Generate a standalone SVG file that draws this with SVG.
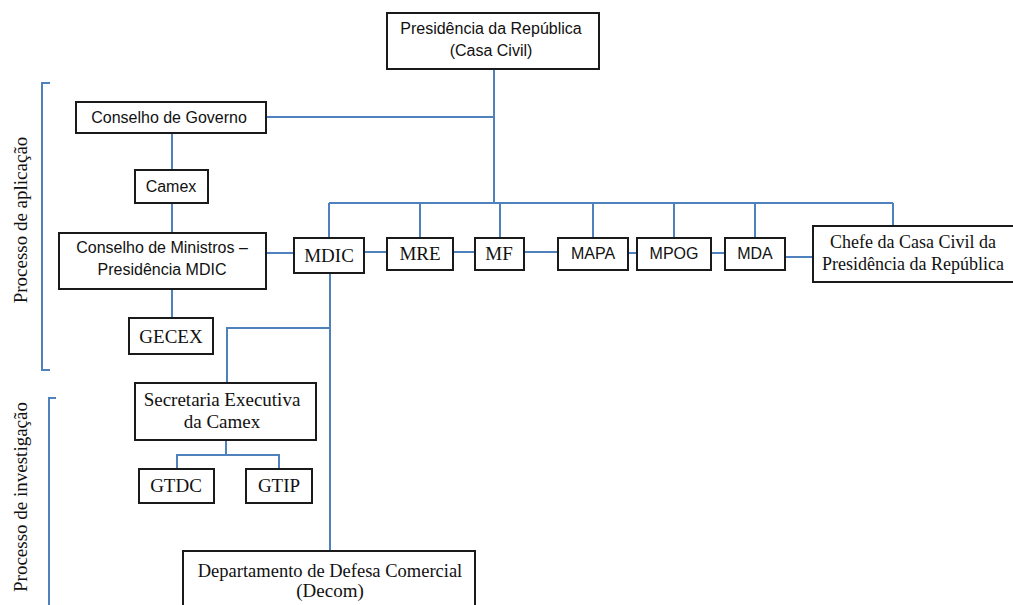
<svg xmlns="http://www.w3.org/2000/svg" width="1013" height="605" viewBox="0 0 1013 605">
<style>
.box{fill:#fff;stroke:#1a1a1a;stroke-width:2}
.ln{fill:none;stroke:#4f81bd;stroke-width:2}
.s{font-family:"Liberation Sans",Arial,sans-serif;font-size:16px;fill:#111;text-anchor:middle}
.t{font-family:"Liberation Serif","Times New Roman",serif;font-size:19px;fill:#111;text-anchor:middle}
</style>
<rect width="1013" height="605" fill="#fff"/>
<g id="connectors">
<path class="ln" d="M494 69V203"/>
<path class="ln" d="M266 117H494"/>
<path class="ln" d="M329 203H893"/>
<path class="ln" d="M329 203V238M420 203V238M500 203V238M593 203V238M674 203V238M755 203V238M893 203V226"/>
<path class="ln" d="M172 133V170M172 203V233M172 289V318"/>
<path class="ln" d="M266 253H294M364 252H387M453 252H475M524 252H558M628 253H637M711 253H725M785 257H813"/>
<path class="ln" d="M330 273V551"/>
<path class="ln" d="M330 328H227V383"/>
<path class="ln" d="M226 440V455M177 469V455H279V469"/>
</g>
<g id="brackets">
<path class="ln" d="M50 83H42V370H50"/>
<path class="ln" d="M56 398H49V605"/>
</g>
<g id="label-aplicacao"><text class="t" transform="translate(27 220) rotate(-90)">Processo de aplicação</text></g>
<g id="label-investigacao"><text class="t" transform="translate(27 497) rotate(-90)">Processo de investigação</text></g>
<g id="presidencia"><rect class="box" x="387" y="13" width="212" height="56"/><text class="s" x="491" y="34">Presidência da República</text><text class="s" x="491" y="56">(Casa Civil)</text></g>
<g id="conselho-governo"><rect class="box" x="76" y="102" width="190" height="31"/><text class="s" x="169" y="123">Conselho de Governo</text></g>
<g id="camex"><rect class="box" x="135" y="170" width="73" height="33"/><text class="s" x="171" y="192">Camex</text></g>
<g id="conselho-ministros"><rect class="box" x="59" y="233" width="207" height="56"/><text class="s" x="162" y="253">Conselho de Ministros –</text><text class="s" x="162" y="275">Presidência MDIC</text></g>
<g id="gecex"><rect class="box" x="129" y="318" width="84" height="36"/><text class="t" x="171" y="343">GECEX</text></g>
<g id="mdic"><rect class="box" x="294" y="238" width="70" height="35"/><text class="t" x="329" y="262">MDIC</text></g>
<g id="mre"><rect class="box" x="387" y="238" width="66" height="32"/><text class="t" x="420" y="260">MRE</text></g>
<g id="mf"><rect class="box" x="475" y="238" width="49" height="32"/><text class="t" x="499" y="260">MF</text></g>
<g id="mapa"><rect class="box" x="558" y="238" width="70" height="32"/><text class="s" x="593" y="259">MAPA</text></g>
<g id="mpog"><rect class="box" x="637" y="238" width="74" height="32"/><text class="s" x="674" y="259">MPOG</text></g>
<g id="mda"><rect class="box" x="725" y="238" width="60" height="32"/><text class="s" x="755" y="259">MDA</text></g>
<g id="chefe"><rect class="box" x="813" y="226" width="204" height="56"/><text class="t" x="913" y="248" style="font-size:18px">Chefe da Casa Civil da</text><text class="t" x="913" y="270" style="font-size:18px">Presidência da República</text></g>
<g id="secretaria"><rect class="box" x="135" y="383" width="181" height="57"/><text class="t" x="222" y="406">Secretaria Executiva</text><text class="t" x="222" y="428">da Camex</text></g>
<g id="gtdc"><rect class="box" x="139" y="469" width="75" height="34"/><text class="t" x="176" y="492">GTDC</text></g>
<g id="gtip"><rect class="box" x="246" y="469" width="66" height="34"/><text class="t" x="279" y="492">GTIP</text></g>
<g id="decom"><rect class="box" x="183" y="551" width="292" height="60"/><text class="t" x="330" y="577" style="font-size:18.5px">Departamento de Defesa Comercial</text><text class="t" x="330" y="597">(Decom)</text></g>
</svg>
